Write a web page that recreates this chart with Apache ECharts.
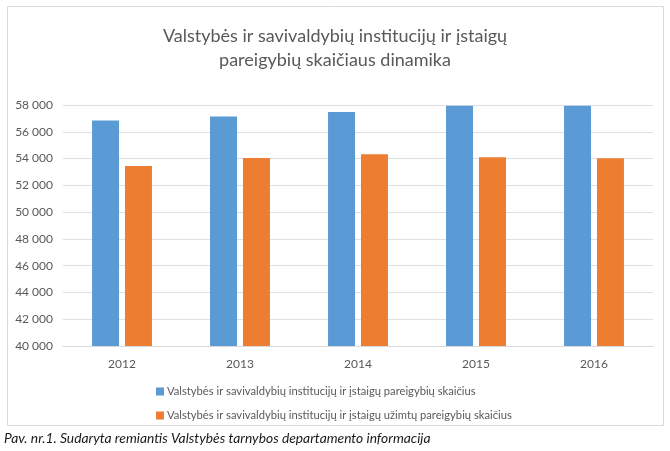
<!DOCTYPE html>
<html><head><meta charset="utf-8">
<script src="https://cdn.jsdelivr.net/npm/echarts@6/dist/echarts.min.js"></script>
<style>html,body{margin:0;padding:0;background:#fff}#c{width:670px;height:451px}</style>
</head><body><div id="c"></div>
<script>
const categories = ['2012','2013','2014','2015','2016'];
const seriesNames = ['Valstybės ir savivaldybių institucijų ir įstaigų pareigybių skaičius','Valstybės ir savivaldybių institucijų ir įstaigų užimtų pareigybių skaičius'];
const positions = [56850, 57140, 57480, 57950, 57950];
const filled = [53450, 54050, 54330, 54100, 54030];
const yTicks = {min: 40000, max: 58000, interval: 2000};
const titleLines = ['Valstybės ir savivaldybių institucijų ir įstaigų', 'pareigybių skaičiaus dinamika'];
const caption = 'Pav. nr.1. Sudaryta remiantis Valstybės tarnybos departamento informacija';

const FONT = 'Lato';
const chart = echarts.init(document.getElementById('c'));
chart.setOption({
  animation: false,
  textStyle: {fontFamily: FONT},
  title: {
    text: titleLines.join('\n'), left: 'center', top: 19,
    textStyle: {fontFamily: FONT, fontSize: 18, fontWeight: 'normal', color: '#595959', lineHeight: 24}
  },
  grid: {left: 63, right: 17, top: 105, bottom: 105},
  legend: {
    orient: 'vertical', left: 151, top: 381, itemWidth: 8, itemHeight: 8, itemGap: 13,
    icon: 'rect',
    textStyle: {fontFamily: FONT, fontSize: 11.2, color: '#595959', padding: [0,0,0,-2]},
    data: seriesNames
  },
  xAxis: {
    type: 'category', data: categories,
    axisLine: {lineStyle: {color: '#d9d9d9'}}, axisTick: {show: false},
    axisLabel: {color: '#595959', fontSize: 12, margin: 12}
  },
  yAxis: {
    type: 'value', min: yTicks.min, max: yTicks.max, interval: yTicks.interval,
    axisLine: {show: false}, axisTick: {show: false},
    splitLine: {lineStyle: {color: '#e0e0e0'}},
    axisLabel: {color: '#595959', fontSize: 12, margin: 10,
      formatter: v => String(v).replace(/\B(?=(\d{3})+(?!\d))/g, ' ')}
  },
  series: [
    {name: seriesNames[0], type: 'bar', data: positions, barWidth: 27, barGap: '22%', itemStyle: {color: '#5B9BD5'}},
    {name: seriesNames[1], type: 'bar', data: filled, barWidth: 27, itemStyle: {color: '#ED7D31'}}
  ],
  graphic: [
    {type: 'rect', shape: {x: 7.5, y: 6.5, width: 656, height: 419}, style: {fill: 'none', stroke: '#d9d9d9', lineWidth: 1}, z: -1},
    {type: 'text', left: 4, top: 432, style: {text: caption, font: 'italic 13.8px ' + FONT, fill: '#1a1a1a'}}
  ]
});
</script></body></html>
